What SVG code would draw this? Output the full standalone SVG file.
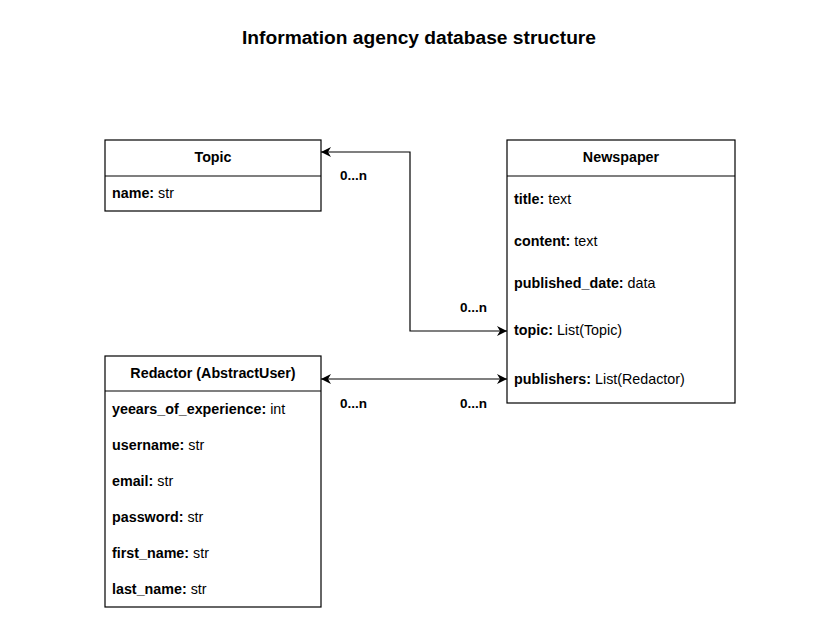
<svg xmlns="http://www.w3.org/2000/svg" width="827" height="636" viewBox="0 0 827 636">
<defs>
<style>
.box{fill:#fff;stroke:#000;stroke-width:1.2}
.ln{stroke:#000;stroke-width:1.2;fill:none}
text{font-family:"Liberation Sans",Arial,sans-serif;font-size:14.3px;fill:#000}
.h{font-weight:bold;text-anchor:middle}
.b{font-weight:bold}
.t{font-weight:bold;font-size:19.2px;text-anchor:middle}
.m{font-weight:bold;font-size:13.5px}
</style>
<marker id="ar" viewBox="0 0 10 10" refX="10" refY="5" markerWidth="10" markerHeight="10" markerUnits="userSpaceOnUse" orient="auto-start-reverse">
<path d="M0,0 L10,5 L0,10 L3,5 Z" fill="#000"/>
</marker>
</defs>
<rect width="827" height="636" fill="#fff"/>
<text class="t" x="419" y="44">Information agency database structure</text>
<g id="topic">
<rect class="box" x="105" y="140" width="216" height="71"/>
<line class="ln" x1="105" y1="176" x2="321" y2="176"/>
<text class="h" x="213" y="162">Topic</text>
<text x="112" y="198"><tspan class="b">name:</tspan> str</text>
</g>
<g id="newspaper">
<rect class="box" x="507" y="140" width="228" height="263"/>
<line class="ln" x1="507" y1="176" x2="735" y2="176"/>
<text class="h" x="621" y="162">Newspaper</text>
<text x="514" y="204"><tspan class="b">title:</tspan> text</text>
<text x="514" y="246"><tspan class="b">content:</tspan> text</text>
<text x="514" y="288"><tspan class="b">published_date:</tspan> data</text>
<text x="514" y="335"><tspan class="b">topic:</tspan> List(Topic)</text>
<text x="514" y="384"><tspan class="b">publishers:</tspan> List(Redactor)</text>
</g>
<g id="redactor">
<rect class="box" x="105" y="356" width="216" height="251"/>
<line class="ln" x1="105" y1="391" x2="321" y2="391"/>
<text class="h" x="213" y="378">Redactor (AbstractUser)</text>
<text x="112" y="414"><tspan class="b">yeears_of_experience:</tspan> int</text>
<text x="112" y="450"><tspan class="b">username:</tspan> str</text>
<text x="112" y="486"><tspan class="b">email:</tspan> str</text>
<text x="112" y="522"><tspan class="b">password:</tspan> str</text>
<text x="112" y="558"><tspan class="b">first_name:</tspan> str</text>
<text x="112" y="594"><tspan class="b">last_name:</tspan> str</text>
</g>
<g id="connectors">
<polyline class="ln" points="321,152 410,152 410,331 507,331" marker-start="url(#ar)" marker-end="url(#ar)"/>
<line class="ln" x1="321" y1="379" x2="507" y2="379" marker-start="url(#ar)" marker-end="url(#ar)"/>
<text class="m" x="340" y="180">0...n</text>
<text class="m" x="460" y="312">0...n</text>
<text class="m" x="340" y="408">0...n</text>
<text class="m" x="460" y="408">0...n</text>
</g>
</svg>
